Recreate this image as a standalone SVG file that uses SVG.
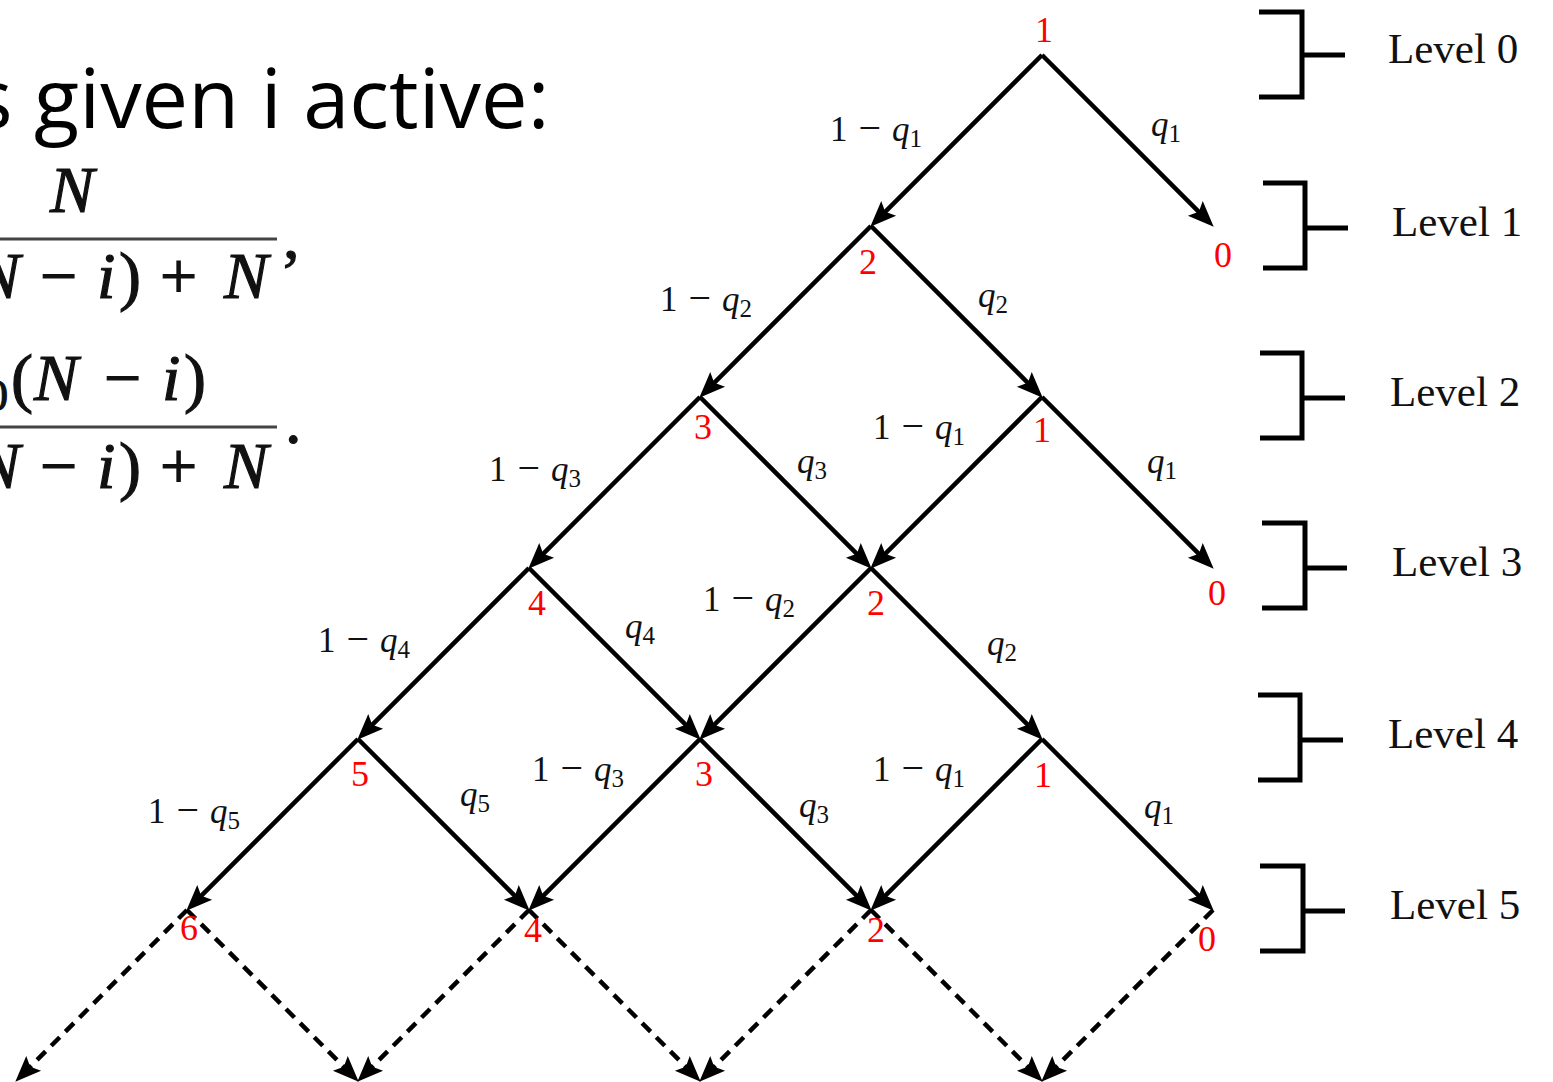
<svg xmlns="http://www.w3.org/2000/svg" width="1553" height="1082" viewBox="0 0 1553 1082">
<style>
.edge{stroke:#000;stroke-width:4.5;fill:none;marker-end:url(#ah)}
.dash{stroke-dasharray:12 8}
.node{font-family:"Liberation Serif","Times New Roman",serif;font-size:36px;fill:#ff0000;text-anchor:middle}
.lbl{font-family:"Liberation Serif","Times New Roman",serif;font-size:35px;fill:#111}
.it{font-style:italic}
.sub{font-size:25px}
.mn{font-size:40px}
.br{stroke:#000;stroke-width:5;fill:none;stroke-linejoin:miter}
.lvl{font-family:"Liberation Serif","Times New Roman",serif;font-size:43px;fill:#111}
.head{font-family:"Open Sans","Noto Sans",sans-serif;font-size:83px;font-weight:500;fill:#000}
.math{font-family:"Liberation Serif","Times New Roman",serif;font-size:66px;fill:#111;stroke:#111;stroke-width:1.2}
.frac{stroke:#444;stroke-width:3}
</style>
<defs>
<marker id="ah" viewBox="-20 -12 30 24" refX="0" refY="0" markerWidth="30" markerHeight="24" markerUnits="userSpaceOnUse" orient="auto"><path d="M9,0 L-17,-10.5 L-12,0 L-17,10.5 Z" fill="#000"/></marker>
</defs>
<rect width="1553" height="1082" fill="#fff"/>

<g id="heading">
<text class="head" x="-27" y="128">s given i active:</text>
</g>
<g id="formula">
<text class="math" x="50" y="212" font-style="italic">N</text>
<line class="frac" x1="0" y1="239" x2="277" y2="239"/>
<text class="math" y="298"><tspan x="-24" font-style="italic">N</tspan><tspan x="40">−</tspan><tspan x="97" font-style="italic">i</tspan><tspan x="119">)</tspan><tspan x="160">+</tspan><tspan x="224" font-style="italic">N</tspan></text>
<text class="math" x="283" y="258">,</text>
<text class="math" y="400"><tspan x="-14" y="410" font-size="44">0</tspan><tspan x="11" y="400">(</tspan><tspan x="34" font-style="italic">N</tspan><tspan x="104">−</tspan><tspan x="162" font-style="italic">i</tspan><tspan x="184">)</tspan></text>
<line class="frac" x1="0" y1="427" x2="277" y2="427"/>
<text class="math" y="488"><tspan x="-24" font-style="italic">N</tspan><tspan x="40">−</tspan><tspan x="97" font-style="italic">i</tspan><tspan x="119">)</tspan><tspan x="160">+</tspan><tspan x="224" font-style="italic">N</tspan></text>
<text class="math" x="285" y="443">.</text>
</g>

<g id="connectors">
<line class="edge" x1="1042" y1="55" x2="876.66" y2="220.34"/>
<line class="edge" x1="1042" y1="55" x2="1207.34" y2="220.34"/>
<line class="edge" x1="871" y1="226" x2="705.66" y2="391.34"/>
<line class="edge" x1="871" y1="226" x2="1036.34" y2="391.34"/>
<line class="edge" x1="700" y1="397" x2="534.66" y2="562.34"/>
<line class="edge" x1="700" y1="397" x2="865.34" y2="562.34"/>
<line class="edge" x1="1042" y1="397" x2="876.66" y2="562.34"/>
<line class="edge" x1="1042" y1="397" x2="1207.34" y2="562.34"/>
<line class="edge" x1="529" y1="568" x2="363.66" y2="733.34"/>
<line class="edge" x1="529" y1="568" x2="694.34" y2="733.34"/>
<line class="edge" x1="871" y1="568" x2="705.66" y2="733.34"/>
<line class="edge" x1="871" y1="568" x2="1036.34" y2="733.34"/>
<line class="edge" x1="358" y1="739" x2="192.66" y2="904.34"/>
<line class="edge" x1="358" y1="739" x2="523.34" y2="904.34"/>
<line class="edge" x1="700" y1="739" x2="534.66" y2="904.34"/>
<line class="edge" x1="700" y1="739" x2="865.34" y2="904.34"/>
<line class="edge" x1="1042" y1="739" x2="876.66" y2="904.34"/>
<line class="edge" x1="1042" y1="739" x2="1207.34" y2="904.34"/>
<line class="edge dash" x1="187" y1="910" x2="21.66" y2="1075.34"/>
<line class="edge dash" x1="187" y1="910" x2="352.34" y2="1075.34"/>
<line class="edge dash" x1="529" y1="910" x2="363.66" y2="1075.34"/>
<line class="edge dash" x1="529" y1="910" x2="694.34" y2="1075.34"/>
<line class="edge dash" x1="871" y1="910" x2="705.66" y2="1075.34"/>
<line class="edge dash" x1="871" y1="910" x2="1036.34" y2="1075.34"/>
<line class="edge dash" x1="1213" y1="910" x2="1047.66" y2="1075.34"/>
</g>

<g id="edge-labels">
<text class="lbl" x="830" y="141">1<tspan dx="11" class="mn">−</tspan><tspan dx="11" class="it">q</tspan><tspan class="sub" dy="6">1</tspan></text>
<text class="lbl" x="1151" y="136"><tspan class="it">q</tspan><tspan class="sub" dy="6">1</tspan></text>
<text class="lbl" x="660" y="311">1<tspan dx="11" class="mn">−</tspan><tspan dx="11" class="it">q</tspan><tspan class="sub" dy="6">2</tspan></text>
<text class="lbl" x="978" y="307"><tspan class="it">q</tspan><tspan class="sub" dy="6">2</tspan></text>
<text class="lbl" x="489" y="481">1<tspan dx="11" class="mn">−</tspan><tspan dx="11" class="it">q</tspan><tspan class="sub" dy="6">3</tspan></text>
<text class="lbl" x="797" y="473"><tspan class="it">q</tspan><tspan class="sub" dy="6">3</tspan></text>
<text class="lbl" x="873" y="439">1<tspan dx="11" class="mn">−</tspan><tspan dx="11" class="it">q</tspan><tspan class="sub" dy="6">1</tspan></text>
<text class="lbl" x="1147" y="473"><tspan class="it">q</tspan><tspan class="sub" dy="6">1</tspan></text>
<text class="lbl" x="318" y="652">1<tspan dx="11" class="mn">−</tspan><tspan dx="11" class="it">q</tspan><tspan class="sub" dy="6">4</tspan></text>
<text class="lbl" x="625" y="638"><tspan class="it">q</tspan><tspan class="sub" dy="6">4</tspan></text>
<text class="lbl" x="703" y="611">1<tspan dx="11" class="mn">−</tspan><tspan dx="11" class="it">q</tspan><tspan class="sub" dy="6">2</tspan></text>
<text class="lbl" x="987" y="655"><tspan class="it">q</tspan><tspan class="sub" dy="6">2</tspan></text>
<text class="lbl" x="148" y="823">1<tspan dx="11" class="mn">−</tspan><tspan dx="11" class="it">q</tspan><tspan class="sub" dy="6">5</tspan></text>
<text class="lbl" x="460" y="806"><tspan class="it">q</tspan><tspan class="sub" dy="6">5</tspan></text>
<text class="lbl" x="532" y="781">1<tspan dx="11" class="mn">−</tspan><tspan dx="11" class="it">q</tspan><tspan class="sub" dy="6">3</tspan></text>
<text class="lbl" x="799" y="817"><tspan class="it">q</tspan><tspan class="sub" dy="6">3</tspan></text>
<text class="lbl" x="873" y="781">1<tspan dx="11" class="mn">−</tspan><tspan dx="11" class="it">q</tspan><tspan class="sub" dy="6">1</tspan></text>
<text class="lbl" x="1144" y="818"><tspan class="it">q</tspan><tspan class="sub" dy="6">1</tspan></text>
</g>

<g id="n-root"><text class="node" x="1044" y="42">1</text></g>
<g id="n-1-2"><text class="node" x="868" y="274">2</text></g>
<g id="n-1-0"><text class="node" x="1223" y="267">0</text></g>
<g id="n-2-3"><text class="node" x="703" y="439">3</text></g>
<g id="n-2-1"><text class="node" x="1042" y="442">1</text></g>
<g id="n-3-4"><text class="node" x="537" y="615">4</text></g>
<g id="n-3-2"><text class="node" x="876" y="615">2</text></g>
<g id="n-3-0"><text class="node" x="1217" y="605">0</text></g>
<g id="n-4-5"><text class="node" x="360" y="786">5</text></g>
<g id="n-4-3"><text class="node" x="704" y="786">3</text></g>
<g id="n-4-1"><text class="node" x="1043" y="787">1</text></g>
<g id="n-5-6"><text class="node" x="189" y="940">6</text></g>
<g id="n-5-4"><text class="node" x="533" y="942">4</text></g>
<g id="n-5-2"><text class="node" x="876" y="942">2</text></g>
<g id="n-5-0"><text class="node" x="1207" y="951">0</text></g>

<g id="level-0"><path class="br" d="M1259,12 H1302 V97 H1259 M1302,55 H1345"/><text class="lvl" x="1388" y="63">Level 0</text></g>
<g id="level-1"><path class="br" d="M1263,183 H1305 V268 H1263 M1305,228 H1348"/><text class="lvl" x="1392" y="236">Level 1</text></g>
<g id="level-2"><path class="br" d="M1260,353 H1302 V438 H1260 M1302,398 H1345"/><text class="lvl" x="1390" y="406">Level 2</text></g>
<g id="level-3"><path class="br" d="M1262,523 H1305 V608 H1262 M1305,568 H1347"/><text class="lvl" x="1392" y="576">Level 3</text></g>
<g id="level-4"><path class="br" d="M1258,695 H1300 V780 H1258 M1300,740 H1343"/><text class="lvl" x="1388" y="748">Level 4</text></g>
<g id="level-5"><path class="br" d="M1260,866 H1303 V951 H1260 M1303,911 H1345"/><text class="lvl" x="1390" y="919">Level 5</text></g>
</svg>
